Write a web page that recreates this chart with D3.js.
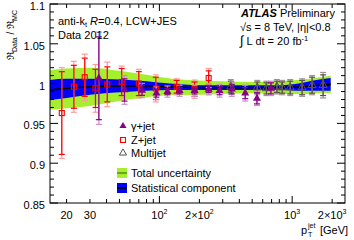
<!DOCTYPE html>
<html lang='en'>
<head>
  <meta charset='UTF-8'/>
  <title>Data/MC jet response ratio with D3.js</title>
  <script src='https://d3js.org/d3.v7.min.js'></script>
  <style>
    body { margin: 0; background: #fff; }
    svg text { font-family: 'Liberation Sans', Arial, sans-serif; fill: #000; }
  </style>
</head>
<body>
  <svg id='chart' width='354' height='240'></svg>
<script>

// combined calibration band
const bandPt    = [15, 20, 30, 50, 80, 120, 200, 300, 500, 800, 1200, 1600, 1950];
const bandMid   = [0.992, 0.994, 0.996, 0.997, 0.997, 0.996, 0.995, 0.995, 0.995, 0.995, 0.996, 0.998, 0.999];
const bandTotal = [0.025, 0.025, 0.024, 0.019, 0.014, 0.0105, 0.009, 0.008, 0.007, 0.008, 0.009, 0.010, 0.011];
const bandStat  = [0.0125, 0.012, 0.010, 0.008, 0.006, 0.004, 0.003, 0.003, 0.003, 0.003, 0.005, 0.007, 0.008];

// Z+jet
const zPt    = [18.4, 22.7, 27.4, 33, 40.5, 52, 70, 94, 135, 184, 235];
const zVal   = [0.963, 0.996, 1.008, 0.994, 0.999, 1.002, 1.000, 0.994, 0.996, 0.993, 1.007];
const zStat  = [0.052, 0.027, 0.024, 0.024, 0.022, 0.017, 0.015, 0.014, 0.008, 0.009, 0.009];
const zTotal = [0.057, 0.032, 0.029, 0.030, 0.028, 0.020, 0.018, 0.017, 0.010, 0.0115, 0.012];

// gamma+jet
const gPt    = [35, 54.6, 74, 95, 115, 142, 184, 235, 284, 351, 443, 543, 692];
const gVal   = [1.0067, 0.992, 0.9913, 0.988, 0.990, 0.991, 0.991, 0.9928, 0.991, 0.993, 0.988, 0.9815, 0.994];
const gStat  = [0.052, 0.014, 0.006, 0.005, 0.004, 0.004, 0.004, 0.004, 0.005, 0.006, 0.007, 0.007, 0.007];
const gTotal = [0.058, 0.018, 0.009, 0.008, 0.007, 0.007, 0.007, 0.007, 0.008, 0.009, 0.010, 0.009, 0.009];

// multijet
const mPt    = [345, 546, 640, 767, 841, 967, 1189, 1413, 1710];
const mVal   = [0.996, 0.995, 0.994, 0.996, 0.995, 0.995, 0.995, 0.998, 0.998];
const mStat  = [0.007, 0.007, 0.007, 0.007, 0.007, 0.008, 0.009, 0.010, 0.013];
const mTotal = [0.009, 0.009, 0.009, 0.009, 0.009, 0.010, 0.011, 0.012, 0.016];

const xMinorTicks = [20, 30, 40, 50, 60, 70, 80, 90, 200, 300, 400, 500, 600, 700, 800, 900, 2000];
const xMajorTicks = [100, 1000];
const xTickLabels = [[20, '20'], [30, '30'], [100, '10', '2'], [200, '2×10', '2'], [1000, '10', '3'], [2000, '2×10', '3']];
const yMajorTicks = [0.85, 0.9, 0.95, 1, 1.05, 1.1];
const yTickLabels = ['0.85', '0.9', '0.95', '1', '1.05', '1.1'];
const yMinorTicks = [0.86, 0.87, 0.88, 0.89, 0.91, 0.92, 0.93, 0.94, 0.96, 0.97, 0.98, 0.99,
                     1.01, 1.02, 1.03, 1.04, 1.06, 1.07, 1.08, 1.09];

const svg = d3.select('#chart');
const padL = 50, padR = 345, padT = 4, padB = 203;

const x = d3.scaleLog().domain([15, 2500]).range([padL, padR]);
const y = d3.scaleLinear().domain([0.85, 1.1]).range([padB, padT]);

// bands
const band = bandPt.map((p, i) => ({p: p, m: bandMid[i], t: bandTotal[i], s: bandStat[i]}));
const bandArea = key => d3.area()
  .curve(d3.curveMonotoneX)
  .x(d => x(d.p))
  .y0(d => y(d.m - d[key]))
  .y1(d => y(d.m + d[key]));

svg.append('path').datum(band).attr('d', bandArea('t')).attr('fill', '#a6ef2e');
svg.append('path').datum(band).attr('d', bandArea('s')).attr('fill', '#0000ff');
svg.append('path').datum(band)
  .attr('d', d3.line().curve(d3.curveMonotoneX).x(d => x(d.p)).y(d => y(d.m)))
  .attr('fill', 'none').attr('stroke', '#000').attr('stroke-width', 1.6);

// error bars
function errorBars(pts, vals, errs, color) {
  const rows = pts.map((p, i) => ({p: p, v: vals[i], e: errs[i]}));
  const g = svg.append('g').attr('stroke', color).attr('stroke-width', 1.2).attr('fill', 'none');
  g.selectAll('.bar').data(rows).join('line')
    .attr('x1', d => x(d.p)).attr('x2', d => x(d.p))
    .attr('y1', d => y(d.v - d.e)).attr('y2', d => y(d.v + d.e));
  g.selectAll('.capLo').data(rows).join('line')
    .attr('x1', d => x(d.p) - 3).attr('x2', d => x(d.p) + 3)
    .attr('y1', d => y(d.v - d.e)).attr('y2', d => y(d.v - d.e));
  g.selectAll('.capHi').data(rows).join('line')
    .attr('x1', d => x(d.p) - 3).attr('x2', d => x(d.p) + 3)
    .attr('y1', d => y(d.v + d.e)).attr('y2', d => y(d.v + d.e));
}

const tri = d3.symbol(d3.symbolTriangle).size(28)();
const triSmall = d3.symbol(d3.symbolTriangle).size(22)();

errorBars(mPt, mVal, mTotal, '#a09090');
errorBars(mPt, mVal, mStat, '#5a5050');
errorBars(zPt, zVal, zTotal, '#ff9a9a');
errorBars(zPt, zVal, zStat, '#ff0000');
errorBars(gPt, gVal, gTotal, '#cc8ccc');
errorBars(gPt, gVal, gStat, '#880088');

svg.append('g').selectAll('path').data(mPt).join('path')
  .attr('d', tri)
  .attr('transform', (d, i) => `translate(${x(d)},${y(mVal[i])})`)
  .attr('fill', 'none').attr('stroke', '#5a5050').attr('stroke-width', 1);

svg.append('g').selectAll('rect').data(zPt).join('rect')
  .attr('x', d => x(d) - 2.5).attr('y', (d, i) => y(zVal[i]) - 2.5)
  .attr('width', 5).attr('height', 5)
  .attr('fill', 'none').attr('stroke', '#ff0000').attr('stroke-width', 1.1);

svg.append('g').selectAll('path').data(gPt).join('path')
  .attr('d', tri)
  .attr('transform', (d, i) => `translate(${x(d)},${y(gVal[i])})`)
  .attr('fill', '#880088');

// frame and ticks
const axes = svg.append('g').attr('stroke', '#000').attr('stroke-width', 1);
axes.append('rect')
  .attr('x', padL).attr('y', padT).attr('width', padR - padL).attr('height', padB - padT)
  .attr('fill', 'none');

const tickLines = (vals, len, vertical) => {
  vals.forEach(v => {
    if (vertical) {
      axes.append('line').attr('x1', x(v)).attr('x2', x(v)).attr('y1', padB).attr('y2', padB - len);
      axes.append('line').attr('x1', x(v)).attr('x2', x(v)).attr('y1', padT).attr('y2', padT + len);
    } else {
      axes.append('line').attr('x1', padL).attr('x2', padL + len).attr('y1', y(v)).attr('y2', y(v));
      axes.append('line').attr('x1', padR).attr('x2', padR - len).attr('y1', y(v)).attr('y2', y(v));
    }
  });
};
tickLines(xMinorTicks, 4, true);
tickLines(xMajorTicks, 7, true);
tickLines(yMinorTicks, 4, false);
tickLines(yMajorTicks, 8, false);

// tick labels
svg.append('g').selectAll('text').data(yMajorTicks).join('text')
  .attr('x', 45).attr('y', d => y(d) + 6)
  .attr('text-anchor', 'end').attr('font-size', 11)
  .text((d, i) => yTickLabels[i]);

const xl = svg.append('g').attr('font-size', 11).attr('text-anchor', 'middle');
xTickLabels.forEach(t => {
  const txt = xl.append('text').attr('x', x(t[0])).attr('y', 219);
  txt.append('tspan').text(t[1]);
  if (t[2]) txt.append('tspan').attr('font-size', 7).attr('dy', -5).text(t[2]);
});

// axis titles
const yt = svg.append('text')
  .attr('transform', 'translate(14,10) rotate(-90)')
  .attr('text-anchor', 'end').attr('font-size', 10).attr('fill', '#222');
yt.append('tspan').attr('font-family', 'DejaVu Serif').text('ℜ');
yt.append('tspan').attr('font-size', 7).attr('dy', 3).text('Data');
yt.append('tspan').attr('dy', -3).text(' / ');
yt.append('tspan').attr('font-family', 'DejaVu Serif').text('ℜ');
yt.append('tspan').attr('font-size', 7).attr('dy', 3).text('MC');

const xt = svg.append('g').attr('font-size', 11);
xt.append('text').attr('x', 301).attr('y', 234).text('p');
xt.append('text').attr('x', 308).attr('y', 237).attr('font-size', 7).text('T');
xt.append('text').attr('x', 308).attr('y', 228).attr('font-size', 7).text('jet');
xt.append('text').attr('x', 320).attr('y', 234).text('[GeV]');

// labels
const info = svg.append('g').attr('font-size', 11);
const t1 = info.append('text').attr('x', 58).attr('y', 25);
t1.append('tspan').text('anti-k');
t1.append('tspan').attr('font-size', 7.5).attr('dy', 2).text('t');
t1.append('tspan').attr('dy', -2).text(' ');
t1.append('tspan').attr('font-style', 'italic').text('R');
t1.append('tspan').text('=0.4, LCW+JES');
info.append('text').attr('x', 58).attr('y', 39).text('Data 2012');

const t2 = info.append('text').attr('x', 241).attr('y', 17);
t2.append('tspan').attr('font-weight', 'bold').attr('font-style', 'italic').text('ATLAS');
t2.append('tspan').text(' Preliminary');
info.append('text').attr('x', 240).attr('y', 31).text('√s = 8 TeV, |η|<0.8');
const t3 = info.append('text').attr('x', 240).attr('y', 45);
t3.append('tspan').attr('font-size', 13).text('∫');
t3.append('tspan').text(' L dt = 20 fb');
t3.append('tspan').attr('font-size', 7.5).attr('dy', -4).text('-1');

// legend
const leg = svg.append('g').attr('font-size', 11);
leg.append('path').attr('d', triSmall).attr('transform', 'translate(123,126)').attr('fill', '#880088');
leg.append('text').attr('x', 131).attr('y', 130).text('γ+jet');
leg.append('rect').attr('x', 120.5).attr('y', 137.5).attr('width', 5).attr('height', 5)
  .attr('fill', 'none').attr('stroke', '#ff0000').attr('stroke-width', 1.1);
leg.append('text').attr('x', 131).attr('y', 144).text('Z+jet');
leg.append('path').attr('d', triSmall).attr('transform', 'translate(123,153)')
  .attr('fill', 'none').attr('stroke', '#5a5050');
leg.append('text').attr('x', 131).attr('y', 157).text('Multijet');

leg.append('rect').attr('x', 117).attr('y', 168).attr('width', 10).attr('height', 10).attr('fill', '#a6ef2e');
leg.append('line').attr('x1', 117).attr('x2', 127).attr('y1', 173).attr('y2', 173).attr('stroke', '#5a8a20').attr('stroke-width', 1.5);
leg.append('text').attr('x', 131).attr('y', 177).text('Total uncertainty');
leg.append('rect').attr('x', 117).attr('y', 183).attr('width', 10).attr('height', 10).attr('fill', '#0000ff');
leg.append('line').attr('x1', 117).attr('x2', 127).attr('y1', 188).attr('y2', 188).attr('stroke', '#000').attr('stroke-width', 1.5);
leg.append('text').attr('x', 131).attr('y', 192).text('Statistical component');

</script>
</body>
</html>
